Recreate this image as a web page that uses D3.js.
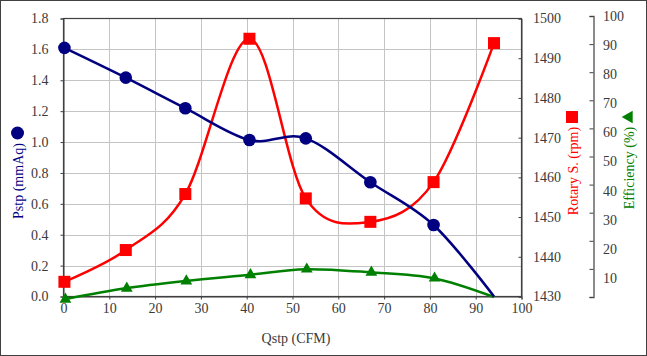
<!DOCTYPE html>
<html><head><meta charset="utf-8">
<script src="https://cdn.jsdelivr.net/npm/d3@7"></script>
<style>body{margin:0;background:#fff}svg{display:block}text{font-family:"Liberation Serif","Times New Roman",serif}</style>
</head><body><svg id="c" width="647" height="356" font-family="Liberation Serif, serif"></svg>
<script>
const flow = [0.2, 13.6, 26.6, 40.6, 52.9, 67.0, 80.8, 94.0];
const pressure = [1.61, 1.417, 1.219, 1.013, 1.024, 0.74, 0.463, 0.0];
const rotary = [1433.7, 1441.7, 1455.8, 1494.9, 1454.7, 1448.8, 1458.8, 1493.8];
const efficiency = [-0.8, 3.1, 5.7, 7.9, 9.9, 8.8, 6.7, 0.0];
const xTicks = [0,10,20,30,40,50,60,70,80,90,100];
const pTicks = [0,0.2,0.4,0.6,0.8,1.0,1.2,1.4,1.6,1.8];
const rTicks = [1430,1440,1450,1460,1470,1480,1490,1500];
const eTicks = [0,10,20,30,40,50,60,70,80,90,100];
const eLabels = [10,20,30,40,50,60,70,80,90,100];

const svg = d3.select("#c");
const L=63.5, R=521.5, T=18.5, B=296.5;
const x = d3.scaleLinear().domain([0,100]).range([L,R]);
const yP = d3.scaleLinear().domain([0,1.8]).range([B,T]);
const yR = d3.scaleLinear().domain([1430,1500]).range([B,T]);
const yE = d3.scaleLinear().domain([0,100]).range([297,16]);
const yEL = d3.scaleLinear().domain([10,100]).range([278,16]);
const txt="#3a3a3a";
const FF="Liberation Serif, Times New Roman, serif";

svg.append("rect").attr("x",0.5).attr("y",0.5).attr("width",646).attr("height",355).attr("fill","#fff").attr("stroke","#404040");

// grid
const g = svg.append("g");
g.selectAll(".vg").data(xTicks.slice(1,-1)).join("line").attr("x1",d=>Math.round(x(d))+0.5).attr("x2",d=>Math.round(x(d))+0.5).attr("y1",T).attr("y2",B).attr("stroke","#c4c4c4");
g.selectAll(".hg").data(pTicks.slice(1,-1)).join("line").attr("y1",d=>Math.round(yP(d))+0.5).attr("y2",d=>Math.round(yP(d))+0.5).attr("x1",L).attr("x2",R).attr("stroke","#c4c4c4");
svg.append("rect").attr("x",L).attr("y",T).attr("width",R-L).attr("height",B-T).attr("fill","none").attr("stroke","#404040").attr("stroke-width",1.2);

// axes
const ax = svg.append("g").attr("transform",`translate(0,${B})`).call(d3.axisBottom(x).tickValues(xTicks).tickSize(3).tickPadding(4).tickFormat(d3.format("d")));
const ay = svg.append("g").attr("transform",`translate(${L},0)`).call(d3.axisLeft(yP).tickValues(pTicks).tickSize(3).tickPadding(12).tickFormat(d3.format(".1f")));
const ar = svg.append("g").attr("transform",`translate(${R},0)`).call(d3.axisLeft(yR).tickValues(rTicks).tickSize(3).tickFormat(""));
ar.selectAll(".tick text").remove();
svg.append("g").selectAll("text").data(rTicks).join("text").attr("x",533).attr("y",d=>yR(d)).attr("dy","0.35em").text(d=>d);
const ae = svg.append("g").attr("transform",`translate(593.5,0)`).call(d3.axisLeft(yE).tickValues(eTicks).tickSize(4).tickFormat(""));
svg.append("g").selectAll("text").data(eLabels).join("text").attr("x",603).attr("y",d=>yEL(d)).attr("dy","0.35em").text(d=>d);
[ax,ay,ar,ae].forEach(a=>{a.attr("font-family",FF).attr("font-size",14);a.select(".domain").attr("stroke","#404040");a.selectAll(".tick line").attr("stroke","#404040");});
ae.select(".domain").attr("stroke","#666").attr("stroke-width",1.5);
svg.selectAll("text").attr("fill",txt).attr("font-family",FF).attr("font-size",14);

// lines
function series(vals, ys, color){
  const pts = flow.map((f,i)=>[x(f), ys(vals[i])]);
  svg.append("path").attr("d", d3.line().curve(d3.curveCatmullRom.alpha(0))(pts)).attr("fill","none").attr("stroke",color).attr("stroke-width",2.5);
  return pts;
}
const pE = series(efficiency, yE, "#008000");
const pR = series(rotary, yR, "#ff0000");
const pP = series(pressure, yP, "#000080");

svg.selectAll(".tri").data(pE.slice(0,-1)).join("path").attr("d",d3.symbol(d3.symbolTriangle,60)()).attr("transform",d=>`translate(${d[0]+1},${d[1]})`).attr("fill","#008000");
svg.selectAll(".sq").data(pR).join("rect").attr("x",d=>d[0]-6).attr("y",d=>d[1]-6).attr("width",12).attr("height",12).attr("fill","#ff0000");
svg.selectAll(".ci").data(pP.slice(0,-1)).join("circle").attr("cx",d=>d[0]).attr("cy",d=>d[1]).attr("r",6.3).attr("fill","#000080");

// axis titles
function title(tr, color, s){
  svg.append("text").attr("transform",tr).attr("dy","0.35em").attr("text-anchor","middle").attr("fill",color).attr("font-family",FF).attr("font-size",14).text(s);
}
title("translate(296,338)", txt, "Qstp (CFM)");
title("translate(18,181) rotate(-90)", "#000080", "Pstp (mmAq)");
svg.append("circle").attr("cx",17.5).attr("cy",133).attr("r",6.5).attr("fill","#000080");
title("translate(573,171) rotate(-90)", "#ff0000", "Rotary S. (rpm)");
svg.append("rect").attr("x",566).attr("y",111).attr("width",12).attr("height",12).attr("fill","#ff0000");
title("translate(629,168) rotate(-90)", "#008000", "Efficiency (%)");
svg.append("path").attr("d",d3.symbol(d3.symbolTriangle,70)()).attr("transform","translate(629,117) rotate(-90)").attr("fill","#008000");
</script></body></html>
